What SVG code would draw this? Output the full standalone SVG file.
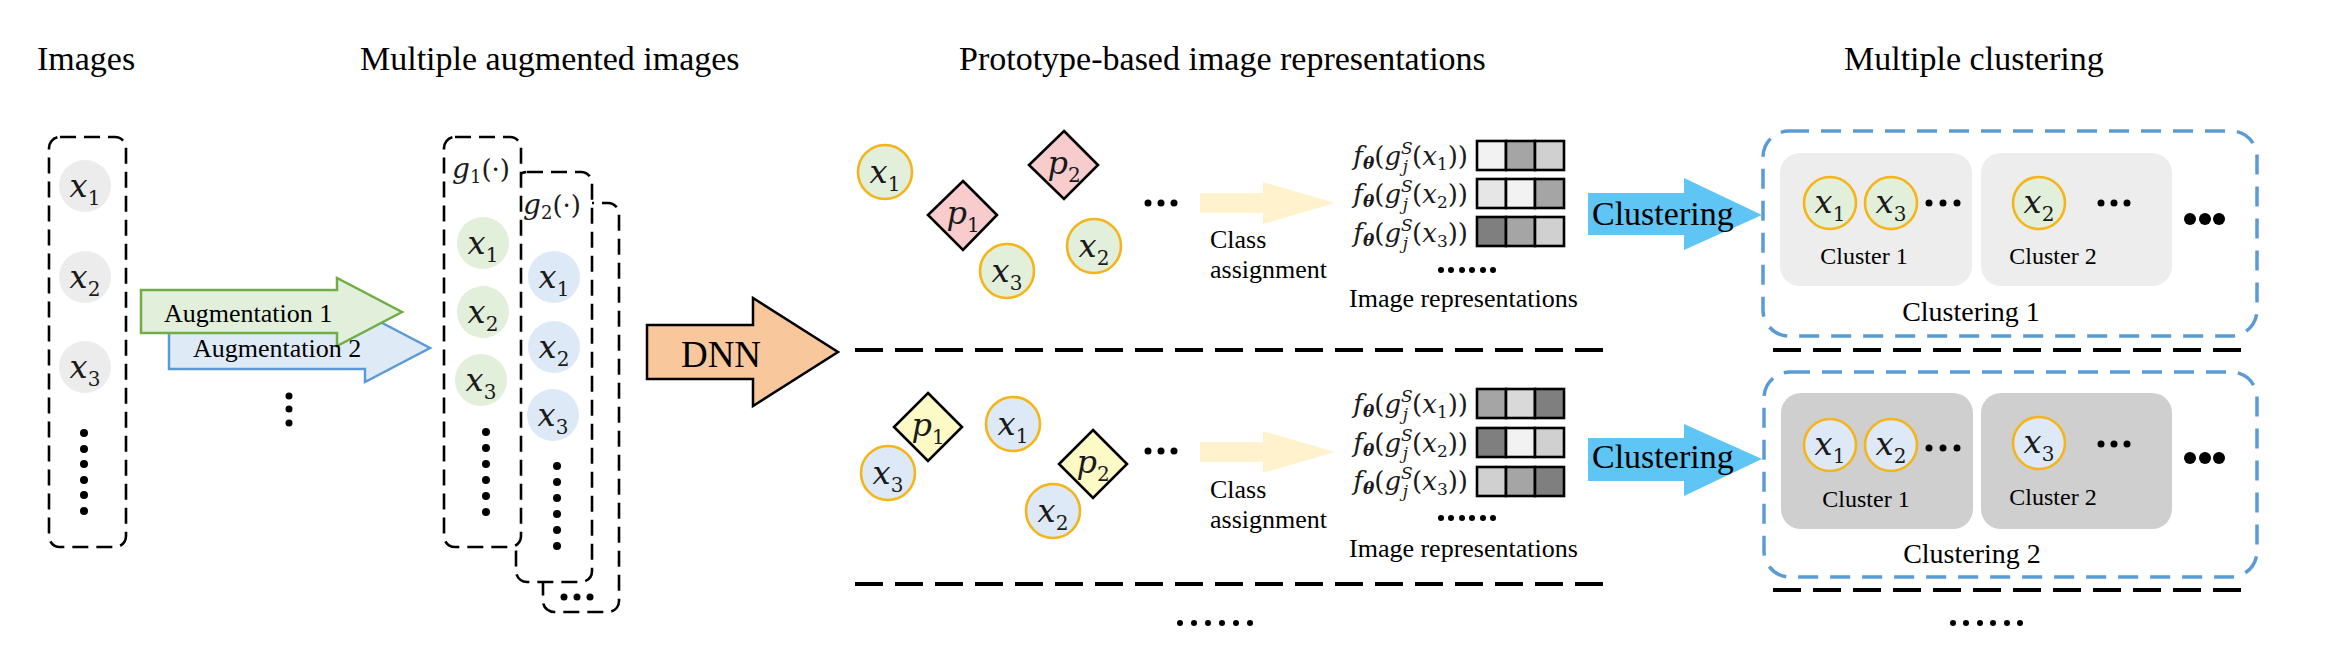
<svg xmlns="http://www.w3.org/2000/svg" width="2339" height="660" viewBox="0 0 2339 660">
<style>
.t{font-family:"Liberation Serif","Times New Roman",serif;fill:#000}
.m{font-family:"DejaVu Serif",serif;fill:#1a1a1a}
.title{font-size:34px}
.box{fill:#fff;stroke:#000;stroke-width:2.6;stroke-dasharray:16 8}
.sep{fill:none;stroke:#000;stroke-width:4;stroke-dasharray:28 12}
.cbox{fill:#fff;stroke:#5b9bd5;stroke-width:3.5;stroke-dasharray:20 12}
.gc{fill:#ececec}
.grc{fill:#e2efda}
.blc{fill:#dde9f6}
.pg{fill:#e2efda;stroke:#f5b41a;stroke-width:2.6}
.pb{fill:#dde9f6;stroke:#f5b41a;stroke-width:2.6}
.dp{fill:#f8cbcc;stroke:#000;stroke-width:2.6}
.dy{fill:#fdfac6;stroke:#000;stroke-width:2.6}
.cell{stroke:#000;stroke-width:2.6}
.c1{fill:#ededed}
.c2{fill:#cfcfcf}
</style>

<!-- titles -->
<g id="titles">
<text class="t title" x="37" y="70">Images</text>
<text class="t title" x="360" y="70">Multiple augmented images</text>
<text class="t title" x="959" y="70">Prototype-based image representations</text>
<text class="t title" x="1844" y="70">Multiple clustering</text>
</g>

<!-- Images column -->
<g id="images">
<rect class="box" x="49" y="137" width="77" height="410" rx="11"/>
<circle class="gc" cx="85" cy="186" r="26"/>
<circle class="gc" cx="85" cy="277" r="26"/>
<circle class="gc" cx="85" cy="367" r="26"/>
<text class="m" x="85" y="197" text-anchor="middle"><tspan font-style="italic" font-size="32">x</tspan><tspan font-size="20" dy="8">1</tspan></text>
<text class="m" x="85" y="288" text-anchor="middle"><tspan font-style="italic" font-size="32">x</tspan><tspan font-size="20" dy="8">2</tspan></text>
<text class="m" x="85" y="378" text-anchor="middle"><tspan font-style="italic" font-size="32">x</tspan><tspan font-size="20" dy="8">3</tspan></text>
<g fill="#000"><circle cx="84" cy="433" r="4"/><circle cx="84" cy="449" r="4"/><circle cx="84" cy="464" r="4"/><circle cx="84" cy="480" r="4"/><circle cx="84" cy="495" r="4"/><circle cx="84" cy="511" r="4"/></g>
</g>

<!-- augmented images stack -->
<g id="aug3">
<rect class="box" x="543" y="203" width="76" height="409" rx="11"/>
<g fill="#000"><circle cx="564" cy="597" r="3.5"/><circle cx="577" cy="597" r="3.5"/><circle cx="590" cy="597" r="3.5"/></g>
</g>
<g id="aug2">
<rect class="box" x="516" y="172" width="76" height="410" rx="11"/>
<text class="m" x="523" y="214"><tspan font-style="italic" font-size="28">g</tspan><tspan font-size="18" dy="5">2</tspan><tspan font-size="26" dy="-5">(·)</tspan></text>
<circle class="blc" cx="554" cy="277" r="26"/>
<circle class="blc" cx="554" cy="347" r="26"/>
<circle class="blc" cx="553" cy="415" r="26"/>
<text class="m" x="554" y="288" text-anchor="middle"><tspan font-style="italic" font-size="32">x</tspan><tspan font-size="20" dy="8">1</tspan></text>
<text class="m" x="554" y="358" text-anchor="middle"><tspan font-style="italic" font-size="32">x</tspan><tspan font-size="20" dy="8">2</tspan></text>
<text class="m" x="553" y="426" text-anchor="middle"><tspan font-style="italic" font-size="32">x</tspan><tspan font-size="20" dy="8">3</tspan></text>
<g fill="#000"><circle cx="557" cy="466" r="4"/><circle cx="557" cy="482" r="4"/><circle cx="557" cy="498" r="4"/><circle cx="557" cy="514" r="4"/><circle cx="557" cy="530" r="4"/><circle cx="557" cy="546" r="4"/></g>
</g>
<g id="aug1">
<rect class="box" x="444" y="137" width="77" height="410" rx="11"/>
<text class="m" x="452" y="178"><tspan font-style="italic" font-size="28">g</tspan><tspan font-size="18" dy="5">1</tspan><tspan font-size="26" dy="-5">(·)</tspan></text>
<circle class="grc" cx="483" cy="243" r="26"/>
<circle class="grc" cx="483" cy="312" r="26"/>
<circle class="grc" cx="481" cy="380" r="26"/>
<text class="m" x="483" y="254" text-anchor="middle"><tspan font-style="italic" font-size="32">x</tspan><tspan font-size="20" dy="8">1</tspan></text>
<text class="m" x="483" y="323" text-anchor="middle"><tspan font-style="italic" font-size="32">x</tspan><tspan font-size="20" dy="8">2</tspan></text>
<text class="m" x="481" y="391" text-anchor="middle"><tspan font-style="italic" font-size="32">x</tspan><tspan font-size="20" dy="8">3</tspan></text>
<g fill="#000"><circle cx="486" cy="432" r="4"/><circle cx="486" cy="448" r="4"/><circle cx="486" cy="464" r="4"/><circle cx="486" cy="480" r="4"/><circle cx="486" cy="496" r="4"/><circle cx="486" cy="512" r="4"/></g>
</g>

<!-- prototype representations (top) -->
<g id="proto1">
<circle class="pg" cx="885" cy="172" r="27"/>
<circle class="pg" cx="1007" cy="271" r="27"/>
<circle class="pg" cx="1094" cy="246" r="27"/>
<polygon class="dp" points="963,181 997,215 963,250 928,215"/>
<polygon class="dp" points="1064,131 1098,165 1064,199 1029,165"/>
<text class="m" x="885" y="183" text-anchor="middle"><tspan font-style="italic" font-size="32">x</tspan><tspan font-size="20" dy="8">1</tspan></text>
<text class="m" x="1007" y="282" text-anchor="middle"><tspan font-style="italic" font-size="32">x</tspan><tspan font-size="20" dy="8">3</tspan></text>
<text class="m" x="1094" y="257" text-anchor="middle"><tspan font-style="italic" font-size="32">x</tspan><tspan font-size="20" dy="8">2</tspan></text>
<text class="m" x="963" y="224" text-anchor="middle"><tspan font-style="italic" font-size="32">p</tspan><tspan font-size="20" dy="8">1</tspan></text>
<text class="m" x="1064" y="174" text-anchor="middle"><tspan font-style="italic" font-size="32">p</tspan><tspan font-size="20" dy="8">2</tspan></text>
<g fill="#000"><circle cx="1148" cy="203" r="3.5"/><circle cx="1161" cy="203" r="3.5"/><circle cx="1174" cy="203" r="3.5"/></g>
</g>

<g id="reps1">
<text class="m" x="1468" y="165" text-anchor="end" font-size="26"><tspan font-style="italic">f</tspan><tspan font-size="17" font-weight="bold" font-style="italic" dy="4">θ</tspan><tspan dy="-4">(</tspan><tspan font-style="italic">g</tspan><tspan font-size="17" font-style="italic" dy="-11">S</tspan><tspan font-size="17" font-style="italic" dx="-10" dy="18">j</tspan><tspan dx="4" dy="-7">(</tspan><tspan font-style="italic">x</tspan><tspan font-size="17" dy="5">1</tspan><tspan dy="-5">))</tspan></text>
<text class="m" x="1468" y="203" text-anchor="end" font-size="26"><tspan font-style="italic">f</tspan><tspan font-size="17" font-weight="bold" font-style="italic" dy="4">θ</tspan><tspan dy="-4">(</tspan><tspan font-style="italic">g</tspan><tspan font-size="17" font-style="italic" dy="-11">S</tspan><tspan font-size="17" font-style="italic" dx="-10" dy="18">j</tspan><tspan dx="4" dy="-7">(</tspan><tspan font-style="italic">x</tspan><tspan font-size="17" dy="5">2</tspan><tspan dy="-5">))</tspan></text>
<text class="m" x="1468" y="242" text-anchor="end" font-size="26"><tspan font-style="italic">f</tspan><tspan font-size="17" font-weight="bold" font-style="italic" dy="4">θ</tspan><tspan dy="-4">(</tspan><tspan font-style="italic">g</tspan><tspan font-size="17" font-style="italic" dy="-11">S</tspan><tspan font-size="17" font-style="italic" dx="-10" dy="18">j</tspan><tspan dx="4" dy="-7">(</tspan><tspan font-style="italic">x</tspan><tspan font-size="17" dy="5">3</tspan><tspan dy="-5">))</tspan></text>
<rect class="cell" x="1477" y="141" width="29" height="29" fill="#f2f2f2"/><rect class="cell" x="1506" y="141" width="29" height="29" fill="#a5a5a5"/><rect class="cell" x="1535" y="141" width="29" height="29" fill="#d0d0d0"/>
<rect class="cell" x="1477" y="179" width="29" height="29" fill="#e6e6e6"/><rect class="cell" x="1506" y="179" width="29" height="29" fill="#f2f2f2"/><rect class="cell" x="1535" y="179" width="29" height="29" fill="#a5a5a5"/>
<rect class="cell" x="1477" y="217" width="29" height="29" fill="#7f7f7f"/><rect class="cell" x="1506" y="217" width="29" height="29" fill="#a5a5a5"/><rect class="cell" x="1535" y="217" width="29" height="29" fill="#d0d0d0"/>
<g fill="#000"><circle cx="1441" cy="270" r="3"/><circle cx="1451" cy="270" r="3"/><circle cx="1462" cy="270" r="3"/><circle cx="1472" cy="270" r="3"/><circle cx="1483" cy="270" r="3"/><circle cx="1493" cy="270" r="3"/></g>
<text class="t" x="1349" y="307" font-size="26">Image representations</text>
</g>

<!-- prototype representations (bottom) -->
<g id="proto2">
<circle class="pb" cx="888" cy="473" r="27"/>
<circle class="pb" cx="1013" cy="424" r="27"/>
<circle class="pb" cx="1053" cy="511" r="27"/>
<polygon class="dy" points="928,393 962,427 928,461 894,427"/>
<polygon class="dy" points="1093,430 1127,464 1093,498 1059,464"/>
<text class="m" x="888" y="484" text-anchor="middle"><tspan font-style="italic" font-size="32">x</tspan><tspan font-size="20" dy="8">3</tspan></text>
<text class="m" x="1013" y="435" text-anchor="middle"><tspan font-style="italic" font-size="32">x</tspan><tspan font-size="20" dy="8">1</tspan></text>
<text class="m" x="1053" y="522" text-anchor="middle"><tspan font-style="italic" font-size="32">x</tspan><tspan font-size="20" dy="8">2</tspan></text>
<text class="m" x="928" y="436" text-anchor="middle"><tspan font-style="italic" font-size="32">p</tspan><tspan font-size="20" dy="8">1</tspan></text>
<text class="m" x="1093" y="473" text-anchor="middle"><tspan font-style="italic" font-size="32">p</tspan><tspan font-size="20" dy="8">2</tspan></text>
<g fill="#000"><circle cx="1148" cy="451" r="3.5"/><circle cx="1161" cy="451" r="3.5"/><circle cx="1174" cy="451" r="3.5"/></g>
</g>

<g id="reps2">
<text class="m" x="1468" y="413" text-anchor="end" font-size="26"><tspan font-style="italic">f</tspan><tspan font-size="17" font-weight="bold" font-style="italic" dy="4">θ</tspan><tspan dy="-4">(</tspan><tspan font-style="italic">g</tspan><tspan font-size="17" font-style="italic" dy="-11">S</tspan><tspan font-size="17" font-style="italic" dx="-10" dy="18">j</tspan><tspan dx="4" dy="-7">(</tspan><tspan font-style="italic">x</tspan><tspan font-size="17" dy="5">1</tspan><tspan dy="-5">))</tspan></text>
<text class="m" x="1468" y="452" text-anchor="end" font-size="26"><tspan font-style="italic">f</tspan><tspan font-size="17" font-weight="bold" font-style="italic" dy="4">θ</tspan><tspan dy="-4">(</tspan><tspan font-style="italic">g</tspan><tspan font-size="17" font-style="italic" dy="-11">S</tspan><tspan font-size="17" font-style="italic" dx="-10" dy="18">j</tspan><tspan dx="4" dy="-7">(</tspan><tspan font-style="italic">x</tspan><tspan font-size="17" dy="5">2</tspan><tspan dy="-5">))</tspan></text>
<text class="m" x="1468" y="490" text-anchor="end" font-size="26"><tspan font-style="italic">f</tspan><tspan font-size="17" font-weight="bold" font-style="italic" dy="4">θ</tspan><tspan dy="-4">(</tspan><tspan font-style="italic">g</tspan><tspan font-size="17" font-style="italic" dy="-11">S</tspan><tspan font-size="17" font-style="italic" dx="-10" dy="18">j</tspan><tspan dx="4" dy="-7">(</tspan><tspan font-style="italic">x</tspan><tspan font-size="17" dy="5">3</tspan><tspan dy="-5">))</tspan></text>
<rect class="cell" x="1477" y="389" width="29" height="29" fill="#a5a5a5"/><rect class="cell" x="1506" y="389" width="29" height="29" fill="#d9d9d9"/><rect class="cell" x="1535" y="389" width="29" height="29" fill="#7f7f7f"/>
<rect class="cell" x="1477" y="428" width="29" height="29" fill="#7f7f7f"/><rect class="cell" x="1506" y="428" width="29" height="29" fill="#f2f2f2"/><rect class="cell" x="1535" y="428" width="29" height="29" fill="#d0d0d0"/>
<rect class="cell" x="1477" y="467" width="29" height="29" fill="#d0d0d0"/><rect class="cell" x="1506" y="467" width="29" height="29" fill="#a5a5a5"/><rect class="cell" x="1535" y="467" width="29" height="29" fill="#7f7f7f"/>
<g fill="#000"><circle cx="1441" cy="518" r="3"/><circle cx="1451" cy="518" r="3"/><circle cx="1462" cy="518" r="3"/><circle cx="1472" cy="518" r="3"/><circle cx="1483" cy="518" r="3"/><circle cx="1493" cy="518" r="3"/></g>
<text class="t" x="1349" y="557" font-size="26">Image representations</text>
</g>

<!-- clustering 1 -->
<g id="clustering1">
<rect class="cbox" x="1763" y="131" width="494" height="205" rx="26"/>
<rect class="c1" x="1780" y="153" width="192" height="133" rx="20"/>
<rect class="c1" x="1981" y="153" width="191" height="133" rx="20"/>
<circle class="pg" cx="1830" cy="203" r="26"/>
<circle class="pg" cx="1891" cy="203" r="26"/>
<circle class="pg" cx="2039" cy="203" r="26"/>
<text class="m" x="1830" y="213" text-anchor="middle"><tspan font-style="italic" font-size="32">x</tspan><tspan font-size="20" dy="8">1</tspan></text>
<text class="m" x="1891" y="213" text-anchor="middle"><tspan font-style="italic" font-size="32">x</tspan><tspan font-size="20" dy="8">3</tspan></text>
<text class="m" x="2039" y="213" text-anchor="middle"><tspan font-style="italic" font-size="32">x</tspan><tspan font-size="20" dy="8">2</tspan></text>
<g fill="#000"><circle cx="1929" cy="203" r="3.5"/><circle cx="1943" cy="203" r="3.5"/><circle cx="1957" cy="203" r="3.5"/>
<circle cx="2101" cy="203" r="3.5"/><circle cx="2114" cy="203" r="3.5"/><circle cx="2127" cy="203" r="3.5"/>
<circle cx="2190" cy="219" r="6"/><circle cx="2205" cy="219" r="6"/><circle cx="2219" cy="219" r="6"/></g>
<text class="t" x="1864" y="264" font-size="24" text-anchor="middle">Cluster 1</text>
<text class="t" x="2053" y="264" font-size="24" text-anchor="middle">Cluster 2</text>
<text class="t" x="1971" y="321" font-size="28" text-anchor="middle">Clustering 1</text>
</g>

<!-- clustering 2 -->
<g id="clustering2">
<rect class="cbox" x="1764" y="372" width="493" height="205" rx="26"/>
<rect class="c2" x="1781" y="393" width="192" height="136" rx="20"/>
<rect class="c2" x="1981" y="393" width="191" height="136" rx="20"/>
<circle class="pb" cx="1830" cy="445" r="26"/>
<circle class="pb" cx="1891" cy="445" r="26"/>
<circle class="pb" cx="2039" cy="443" r="26"/>
<text class="m" x="1830" y="455" text-anchor="middle"><tspan font-style="italic" font-size="32">x</tspan><tspan font-size="20" dy="8">1</tspan></text>
<text class="m" x="1891" y="455" text-anchor="middle"><tspan font-style="italic" font-size="32">x</tspan><tspan font-size="20" dy="8">2</tspan></text>
<text class="m" x="2039" y="453" text-anchor="middle"><tspan font-style="italic" font-size="32">x</tspan><tspan font-size="20" dy="8">3</tspan></text>
<g fill="#000"><circle cx="1929" cy="448" r="3.5"/><circle cx="1943" cy="448" r="3.5"/><circle cx="1957" cy="448" r="3.5"/>
<circle cx="2101" cy="444" r="3.5"/><circle cx="2114" cy="444" r="3.5"/><circle cx="2127" cy="444" r="3.5"/>
<circle cx="2190" cy="458" r="6"/><circle cx="2205" cy="458" r="6"/><circle cx="2219" cy="458" r="6"/></g>
<text class="t" x="1866" y="507" font-size="24" text-anchor="middle">Cluster 1</text>
<text class="t" x="2053" y="505" font-size="24" text-anchor="middle">Cluster 2</text>
<text class="t" x="1972" y="563" font-size="28" text-anchor="middle">Clustering 2</text>
</g>

<!-- separators and ellipses -->
<g id="separators">
<line class="sep" x1="855" y1="350" x2="1607" y2="350"/>
<line class="sep" x1="855" y1="584" x2="1607" y2="584"/>
<line class="sep" x1="1773" y1="350" x2="2243" y2="350"/>
<line class="sep" x1="1773" y1="590" x2="2243" y2="590"/>
<g fill="#000">
<circle cx="1180" cy="623" r="3"/><circle cx="1194" cy="623" r="3"/><circle cx="1208" cy="623" r="3"/><circle cx="1222" cy="623" r="3"/><circle cx="1236" cy="623" r="3"/><circle cx="1250" cy="623" r="3"/>
<circle cx="1953" cy="623" r="3"/><circle cx="1966" cy="623" r="3"/><circle cx="1980" cy="623" r="3"/><circle cx="1993" cy="623" r="3"/><circle cx="2007" cy="623" r="3"/><circle cx="2020" cy="623" r="3"/>
</g>
</g>

<!-- connectors -->
<g id="connectors">
<polygon fill="#deebf7" stroke="#5b9bd5" stroke-width="2.5" points="169,327 365,327 365,314 430,348 365,382 365,369 169,369"/>
<polygon fill="#e2efda" stroke="#70ad47" stroke-width="2.5" points="141,290 337,290 337,278 402,312 337,346 337,333 141,333"/>
<text class="t" x="164" y="322" font-size="26">Augmentation 1</text>
<text class="t" x="193" y="357" font-size="26">Augmentation 2</text>
<g fill="#000"><circle cx="289" cy="396" r="3.5"/><circle cx="289" cy="409" r="3.5"/><circle cx="289" cy="423" r="3.5"/></g>

<polygon fill="#f8c79c" stroke="#000" stroke-width="2.5" points="647,325 753,325 753,298 838,352 753,406 753,379 647,379"/>
<text class="t" x="721" y="367" font-size="37" text-anchor="middle">DNN</text>

<polygon fill="#fff2cc" points="1200,193 1263,193 1263,182 1335,203 1263,224 1263,213 1200,213"/>
<polygon fill="#fff2cc" points="1200,442 1263,442 1263,431 1335,452 1263,473 1263,462 1200,462"/>
<text class="t" x="1210" y="248" font-size="26">Class</text>
<text class="t" x="1210" y="278" font-size="26">assignment</text>
<text class="t" x="1210" y="498" font-size="26">Class</text>
<text class="t" x="1210" y="528" font-size="26">assignment</text>

<polygon fill="#5ec5f5" points="1588,193 1684,193 1684,178 1762,215 1684,250 1684,235 1588,235"/>
<polygon fill="#5ec5f5" points="1588,438 1684,438 1684,424 1762,459 1684,496 1684,481 1588,481"/>
<text class="t" x="1592" y="225" font-size="34">Clustering</text>
<text class="t" x="1592" y="468" font-size="34">Clustering</text>
</g>
</svg>
